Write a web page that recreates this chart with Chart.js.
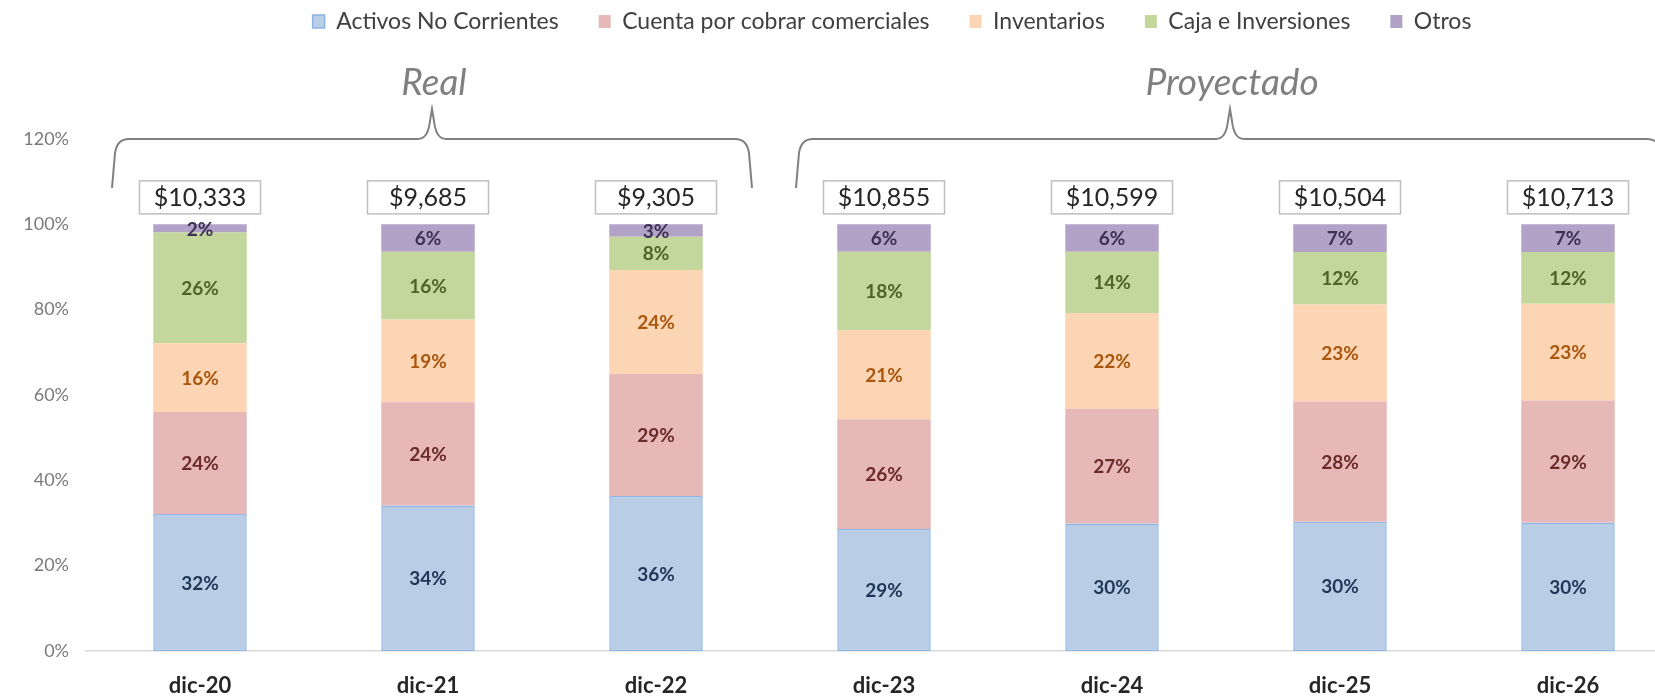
<!DOCTYPE html>
<html>
<head>
<meta charset="utf-8">
<title>Composición de activos</title>
<script src="https://cdn.jsdelivr.net/npm/chart.js@4.4.0/dist/chart.umd.min.js"></script>
<style>
  html, body { margin: 0; padding: 0; background: #fff; overflow: hidden; }
  #wrap { width: 1682px; height: 697px; position: relative; }
</style>
</head>
<body>
<div id="wrap"><canvas id="activosChart"></canvas></div>
<script>
// ---- datos (porcentaje de activos totales) ----
var periodos = ['dic-20', 'dic-21', 'dic-22', 'dic-23', 'dic-24', 'dic-25', 'dic-26'];
var activosNoCorrientes = [32.1, 34.1, 36.3, 28.6, 29.9, 30.3, 30.1];
var cuentasPorCobrar    = [23.9, 24.2, 28.6, 25.7, 26.9, 28.2, 28.6];
var inventarios         = [16.1, 19.4, 24.4, 20.9, 22.4, 22.7, 22.7];
var cajaInversiones     = [26.0, 15.9, 7.8, 18.4, 14.4, 12.3, 12.1];
var otros               = [1.9, 6.4, 2.9, 6.4, 6.4, 6.5, 6.5];
var activosTotales = [10333, 9685, 9305, 10855, 10599, 10504, 10713];
var yTicks = [0, 20, 40, 60, 80, 100, 120];
var grupos = [
  { label: 'Real', desde: 0, hasta: 2 },
  { label: 'Proyectado', desde: 3, hasta: 6 }
];

Chart.defaults.font.family = 'Lato, "DejaVu Sans", sans-serif';

// colores de texto de las etiquetas de cada serie
var labelColors = ['#1f3757', '#6b2b29', '#a9570e', '#4f6228', '#3f3151'];

// % dentro de cada segmento
var segmentLabels = {
  id: 'segmentLabels',
  afterDatasetsDraw: function (chart) {
    var ctx = chart.ctx;
    ctx.save();
    ctx.font = 'bold 19px Lato';
    ctx.textAlign = 'center';
    ctx.textBaseline = 'middle';
    chart.data.datasets.forEach(function (ds, i) {
      var meta = chart.getDatasetMeta(i);
      ctx.fillStyle = labelColors[i];
      meta.data.forEach(function (bar, j) {
        ctx.fillText(Math.round(ds.data[j]) + '%', bar.x, (bar.y + bar.base) / 2 + 1);
      });
    });
    ctx.restore();
  }
};

// cajas con el total de activos encima de cada barra
var totalBoxes = {
  id: 'totalBoxes',
  afterDatasetsDraw: function (chart) {
    var ctx = chart.ctx;
    var yScale = chart.scales.y;
    var meta = chart.getDatasetMeta(0);
    var yc = yScale.getPixelForValue(100) - 27;
    ctx.save();
    ctx.font = '25px Lato';
    ctx.textAlign = 'center';
    ctx.textBaseline = 'middle';
    meta.data.forEach(function (bar, j) {
      var w = 121, h = 33;
      ctx.fillStyle = '#ffffff';
      ctx.fillRect(bar.x - w / 2, yc - h / 2, w, h);
      ctx.strokeStyle = '#bfbfbf';
      ctx.lineWidth = 1.5;
      ctx.strokeRect(bar.x - w / 2, yc - h / 2, w, h);
      ctx.fillStyle = '#262626';
      ctx.fillText('$' + activosTotales[j].toLocaleString('en-US'), bar.x, yc + 1);
    });
    ctx.restore();
  }
};

// llaves de "Real" / "Proyectado"
var braces = {
  id: 'braces',
  afterDraw: function (chart) {
    var ctx = chart.ctx;
    var xs = chart.scales.x, ys = chart.scales.y;
    var yLine = ys.getPixelForValue(120);
    var yEnd = yLine + 49;
    var tip = yLine - 30;
    ctx.save();
    ctx.strokeStyle = '#808080';
    ctx.lineWidth = 2;
    grupos.forEach(function (g) {
      var x0 = xs.getPixelForValue(g.desde) - 88;
      var x1 = xs.getPixelForValue(g.hasta) + 96;
      var xm = (x0 + x1) / 2;
      ctx.beginPath();
      ctx.moveTo(x0, yEnd);
      ctx.lineTo(x0 + 3, yLine + 14);
      ctx.quadraticCurveTo(x0 + 5, yLine, x0 + 17, yLine);
      ctx.lineTo(xm - 14, yLine);
      ctx.quadraticCurveTo(xm - 4, yLine, xm - 2, tip + 12);
      ctx.lineTo(xm, tip);
      ctx.lineTo(xm + 2, tip + 12);
      ctx.quadraticCurveTo(xm + 4, yLine, xm + 14, yLine);
      ctx.lineTo(x1 - 17, yLine);
      ctx.quadraticCurveTo(x1 - 5, yLine, x1 - 3, yLine + 14);
      ctx.lineTo(x1, yEnd);
      ctx.stroke();

      ctx.fillStyle = '#808080';
      ctx.font = 'italic 37px Lato';
      ctx.textAlign = 'center';
      ctx.textBaseline = 'alphabetic';
      ctx.fillText(g.label, xm + 2, tip - 14);
    });
    ctx.restore();
  }
};

// mueve la leyenda arriba y un poco a la derecha
var legendShift = {
  id: 'legendShift',
  afterLayout: function (chart) {
    var lg = chart.legend;
    var dy = -30 - lg.top;
    lg.top += dy; lg.bottom += dy;
    lg.left += 51; lg.right += 51;
  }
};

var ctx = document.getElementById('activosChart').getContext('2d');
var chart = new Chart(ctx, {
  type: 'bar',
  data: {
    labels: periodos,
    datasets: [
      { label: 'Activos No Corrientes', data: activosNoCorrientes, backgroundColor: '#b9cde5', borderColor: '#8eb4e3', borderWidth: 1.5, borderSkipped: false },
      { label: 'Cuenta por cobrar comerciales', data: cuentasPorCobrar, backgroundColor: '#e6b9b8', borderWidth: 0 },
      { label: 'Inventarios', data: inventarios, backgroundColor: '#fcd5b5', borderWidth: 0 },
      { label: 'Caja e Inversiones', data: cajaInversiones, backgroundColor: '#c3d69b', borderWidth: 0 },
      { label: 'Otros', data: otros, backgroundColor: '#b3a2c7', borderWidth: 0 }
    ]
  },
  options: {
    responsive: true,
    maintainAspectRatio: false,
    animation: false,
    layout: { padding: { top: 66, left: 0, right: 0, bottom: 0 } },
    datasets: { bar: { categoryPercentage: 1.0, barPercentage: 0.41 } },
    plugins: {
      legend: {
        position: 'top',
        labels: { boxWidth: 12, boxHeight: 13, padding: 40, color: '#404040', font: { size: 23 } }
      },
      tooltip: { enabled: false }
    },
    scales: {
      x: {
        stacked: true,
        grid: { display: false, drawTicks: false },
        border: { display: true, color: '#d9d9d9', width: 1.5 },
        ticks: { color: '#262626', font: { size: 22, weight: 'bold' }, padding: 22 },
        afterFit: function (scale) { scale.height = 46; }
      },
      y: {
        stacked: true,
        min: 0,
        max: 120,
        grid: { display: false, drawTicks: false },
        border: { display: false },
        afterBuildTicks: function (scale) {
          scale.ticks = yTicks.map(function (v) { return { value: v }; });
        },
        ticks: {
          color: '#7a7a7a',
          font: { size: 18 },
          padding: 17,
          callback: function (v) { return v + '%'; }
        },
        afterFit: function (scale) { scale.width = 86; }
      }
    }
  },
  plugins: [segmentLabels, totalBoxes, braces, legendShift]
});
</script>
</body>
</html>
